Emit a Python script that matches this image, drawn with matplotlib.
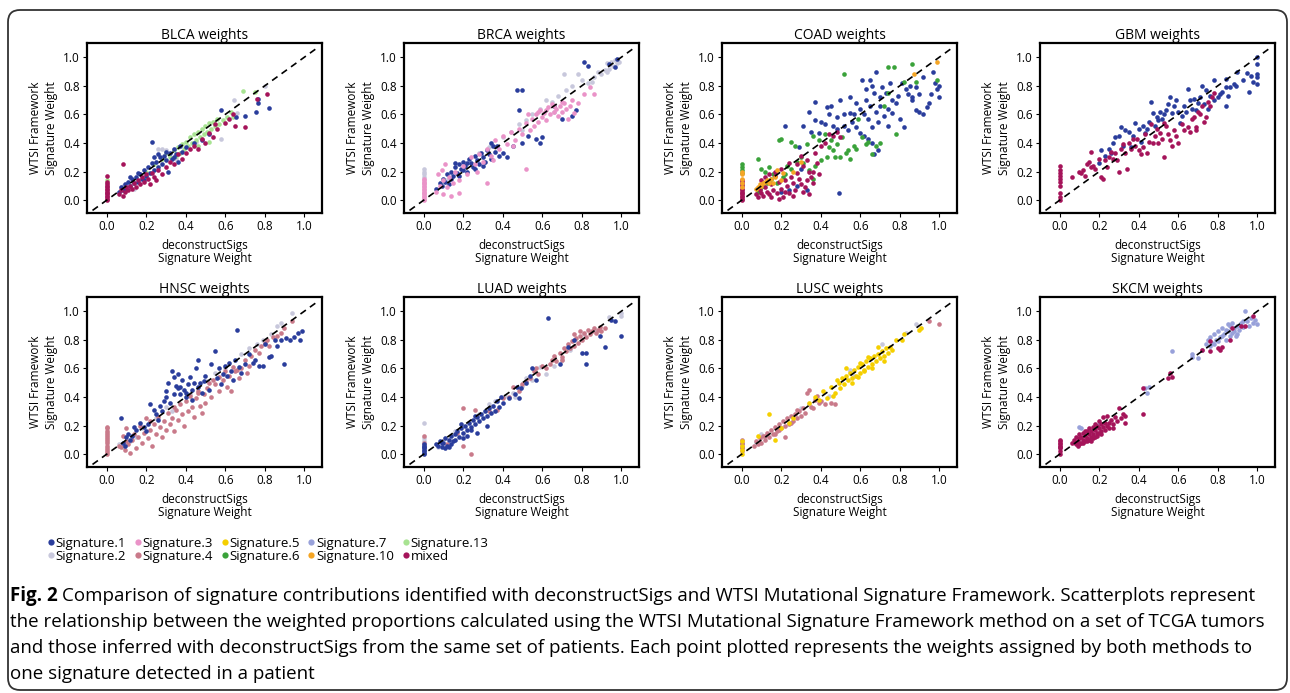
import numpy as np
import matplotlib
matplotlib.use("Agg")
import matplotlib.pyplot as plt
from matplotlib.lines import Line2D
from matplotlib.patches import FancyBboxPatch
from matplotlib.transforms import IdentityTransform

W, H = 1290, 693

# signature colours
sig_colors = {
    "Signature.1": "#2a3d9c",
    "Signature.2": "#c8c8dc",
    "Signature.3": "#ea93c8",
    "Signature.4": "#c97a8a",
    "Signature.5": "#f5cf00",
    "Signature.6": "#3aa23a",
    "Signature.7": "#98a1da",
    "Signature.10": "#f5a524",
    "Signature.13": "#a8e392",
    "mixed": "#a5145a",
}
legend_order = ["Signature.1", "Signature.2", "Signature.3", "Signature.4", "Signature.5",
                "Signature.6", "Signature.7", "Signature.10", "Signature.13", "mixed"]

###############################
# DATA (deconstructSigs, WTSI) #
###############################

blca_sig1 = [(0.06,0.06),(0.07,0.09),(0.08,0.07),(0.09,0.11),(0.10,0.08),(0.11,0.13),(0.12,0.10),(0.13,0.15),
             (0.14,0.12),(0.15,0.16),(0.16,0.13),(0.17,0.18),(0.18,0.15),(0.19,0.21),(0.20,0.17),(0.21,0.23),
             (0.22,0.19),(0.23,0.41),(0.23,0.26),(0.24,0.21),(0.25,0.27),(0.26,0.23),(0.27,0.30),(0.28,0.25),
             (0.29,0.31),(0.30,0.28),(0.31,0.20),(0.32,0.33),(0.33,0.29),(0.34,0.36),(0.35,0.32),(0.36,0.27),
             (0.37,0.38),(0.38,0.34),(0.40,0.37),(0.44,0.40),(0.48,0.42),(0.52,0.46),(0.58,0.63),(0.655,0.585),
             (0.70,0.59),(0.755,0.62),(0.765,0.68),(0.765,0.705),(0.82,0.645),(0.12,0.16),(0.16,0.19),
             (0.26,0.32),(0.30,0.34),(0.34,0.30),(0.24,0.30),(0.19,0.14)]
blca_sig2 = [(0.0,0.12),(0.26,0.36),(0.28,0.36),(0.30,0.35),(0.645,0.70),(0.80,0.80),(0.45,0.41),(0.58,0.43),
             (0.66,0.61),(0.20,0.16),(0.14,0.08),(0.35,0.29),(0.08,0.10)]
blca_sig13 = [(0.0,0.14),(0.30,0.33),(0.32,0.30),(0.34,0.35),(0.35,0.31),(0.36,0.37),(0.37,0.33),(0.38,0.39),
              (0.39,0.36),(0.40,0.41),(0.41,0.38),(0.42,0.44),(0.43,0.40),(0.44,0.46),(0.45,0.42),(0.46,0.48),
              (0.47,0.44),(0.48,0.50),(0.49,0.46),(0.50,0.52),(0.51,0.48),(0.52,0.54),(0.53,0.50),(0.54,0.55),
              (0.55,0.52),(0.56,0.57),(0.57,0.53),(0.59,0.56),(0.61,0.58),(0.63,0.62),(0.64,0.58),(0.69,0.765),
              (0.75,0.76),(0.20,0.20),(0.24,0.25),(0.28,0.29),(0.52,0.41),(0.46,0.38)]
blca_mixed = [(0.0,0.0),(0.0,0.01),(0.0,0.02),(0.0,0.03),(0.0,0.04),(0.0,0.05),(0.0,0.06),(0.0,0.07),(0.0,0.08),
              (0.0,0.09),(0.0,0.10),(0.0,0.11),(0.0,0.13),(0.0,0.17),
              (0.06,0.04),(0.07,0.07),(0.08,0.25),(0.08,0.03),(0.09,0.06),(0.10,0.09),(0.11,0.07),(0.12,0.10),
              (0.13,0.08),(0.14,0.12),(0.15,0.09),(0.16,0.14),(0.17,0.11),(0.18,0.16),(0.19,0.13),(0.20,0.18),
              (0.21,0.15),(0.22,0.11),(0.23,0.19),(0.24,0.16),(0.25,0.14),(0.26,0.21),(0.28,0.18),(0.30,0.23),
              (0.32,0.27),(0.34,0.25),(0.36,0.32),(0.38,0.29),(0.40,0.33),(0.42,0.36),(0.44,0.38),(0.46,0.36),
              (0.48,0.43),(0.50,0.40),(0.52,0.47),(0.54,0.44),(0.55,0.53),(0.56,0.50),(0.60,0.54),(0.62,0.57),
              (0.64,0.60),(0.65,0.52),(0.70,0.51),(0.76,0.71),(0.81,0.745)]

brca_sig1 = [(0.06,0.08),(0.08,0.12),(0.09,0.10),(0.10,0.15),(0.11,0.13),(0.12,0.18),(0.13,0.11),(0.14,0.20),
             (0.15,0.17),(0.16,0.23),(0.17,0.19),(0.18,0.25),(0.19,0.22),(0.20,0.27),(0.21,0.24),(0.22,0.20),
             (0.23,0.29),(0.24,0.26),(0.25,0.23),(0.26,0.31),(0.27,0.28),(0.28,0.25),(0.29,0.33),(0.30,0.30),
             (0.31,0.27),(0.32,0.35),(0.33,0.32),(0.34,0.29),(0.35,0.38),(0.36,0.34),(0.37,0.38),(0.38,0.31),
             (0.40,0.33),(0.42,0.30),(0.45,0.38),(0.47,0.77),(0.48,0.63),(0.50,0.77),(0.50,0.40),(0.53,0.45),
             (0.57,0.43),(0.59,0.40),(0.60,0.44),(0.66,0.66),(0.70,0.57),(0.75,0.59),(0.77,0.63),(0.81,0.97),
             (0.83,0.94),(0.94,0.95),(0.97,0.93),(0.98,0.99),(0.14,0.15),(0.18,0.17),(0.22,0.26),(0.26,0.22),
             (0.30,0.24),(0.34,0.40),(0.20,0.21),(0.16,0.26)]
brca_sig2 = [(0.0,0.16),(0.0,0.18),(0.0,0.20),(0.0,0.22),
             (0.12,0.14),(0.20,0.22),(0.28,0.33),(0.33,0.37),(0.37,0.37),(0.40,0.44),(0.44,0.48),(0.48,0.53),
             (0.52,0.56),(0.55,0.60),(0.59,0.64),(0.62,0.70),(0.65,0.69),(0.68,0.73),(0.71,0.88),(0.72,0.77),
             (0.75,0.80),(0.78,0.88),(0.80,0.84),(0.83,0.82),(0.85,0.83),(0.88,0.90),(0.90,0.88),(0.92,0.91),
             (0.93,0.96),(0.94,0.92),(0.95,0.97),(0.96,0.94),(0.97,0.98),(0.98,0.96),(0.99,0.97),(0.93,0.90),
             (0.86,0.86),(0.66,0.62),(0.50,0.49)]
brca_sig3 = [(0.0,0.0),(0.0,0.01),(0.0,0.02),(0.0,0.03),(0.0,0.04),(0.0,0.05),(0.0,0.06),(0.0,0.07),(0.0,0.08),
             (0.0,0.09),(0.0,0.10),(0.0,0.11),(0.0,0.12),(0.0,0.13),(0.0,0.14),(0.0,0.15),
             (0.06,0.06),(0.07,0.18),(0.08,0.10),(0.09,0.21),(0.10,0.14),(0.11,0.25),(0.12,0.09),(0.13,0.16),
             (0.14,0.03),(0.15,0.12),(0.16,0.20),(0.18,0.14),(0.20,0.24),(0.22,0.18),(0.24,0.30),(0.26,0.25),
             (0.28,0.32),(0.30,0.27),(0.32,0.36),(0.34,0.31),(0.36,0.42),(0.38,0.36),(0.40,0.45),(0.42,0.39),
             (0.44,0.48),(0.46,0.42),(0.48,0.50),(0.50,0.46),(0.52,0.22),(0.52,0.54),(0.54,0.49),(0.55,0.57),
             (0.56,0.52),(0.57,0.60),(0.58,0.55),(0.59,0.63),(0.60,0.58),(0.61,0.61),(0.62,0.56),(0.63,0.65),
             (0.64,0.60),(0.65,0.67),(0.66,0.62),(0.67,0.64),(0.68,0.59),(0.69,0.66),(0.70,0.62),(0.71,0.68),
             (0.72,0.64),(0.73,0.57),(0.74,0.66),(0.75,0.70),(0.76,0.61),(0.78,0.68),(0.81,0.74),(0.84,0.79),
             (0.86,0.74),(0.32,0.12),(0.18,0.05),(0.10,0.04),(0.27,0.20),(0.35,0.28),(0.45,0.38),(0.53,0.60),
             (0.58,0.62),(0.62,0.63),(0.66,0.66),(0.70,0.69)]

coad_sig1 = [(0.65,0.84),(0.66,0.80),(0.67,0.75),(0.65,0.66),(0.63,0.70),(0.55,0.61),(0.58,0.68),(0.60,0.64),
             (0.62,0.60),(0.64,0.57),(0.68,0.62),(0.70,0.66),(0.72,0.59),(0.74,0.64),(0.76,0.61),(0.78,0.68),
             (0.80,0.57),(0.82,0.51),(0.84,0.74),(0.86,0.72),(0.88,0.79),(0.90,0.62),(0.92,0.60),(0.94,0.65),
             (0.96,0.74),(0.98,0.82),(1.0,0.80),(1.0,0.72),(0.99,0.78),(0.68,0.90),(0.61,0.84),(0.50,0.70),
             (0.45,0.66),(0.43,0.65),(0.37,0.69),(0.34,0.62),(0.37,0.56),(0.40,0.55),(0.42,0.53),(0.46,0.52),
             (0.48,0.50),(0.52,0.52),(0.54,0.49),(0.56,0.55),(0.58,0.51),(0.60,0.47),(0.62,0.45),(0.64,0.43),
             (0.66,0.40),(0.69,0.35),(0.67,0.32),(0.49,0.05),(0.35,0.48),(0.29,0.37),(0.22,0.52),(0.30,0.22),
             (0.28,0.10),(0.33,0.07),(0.24,0.07),(0.20,0.06),(0.55,0.72),(0.57,0.60),(0.70,0.72),(0.73,0.75),
             (0.76,0.70),(0.79,0.73),(0.83,0.78),(0.86,0.70),(0.52,0.60),(0.48,0.58),(0.44,0.60),(0.39,0.47),
             (0.31,0.52),(0.63,0.78),(0.71,0.79),(0.75,0.82),(0.81,0.82),(0.85,0.80),(0.88,0.63),(0.95,0.68),
             (0.69,0.55),(0.66,0.51),(0.74,0.52),(0.90,0.74),(0.92,0.86),(0.97,0.90)]
coad_sig6 = [(0.0,0.19),(0.0,0.21),(0.0,0.23),(0.0,0.25),
             (0.08,0.29),(0.10,0.22),(0.12,0.20),(0.14,0.23),(0.16,0.18),(0.19,0.42),(0.20,0.43),(0.25,0.41),
             (0.27,0.38),(0.33,0.39),(0.36,0.45),(0.39,0.42),(0.42,0.46),(0.44,0.37),(0.46,0.35),(0.48,0.39),
             (0.50,0.30),(0.52,0.88),(0.54,0.35),(0.55,0.29),(0.57,0.38),(0.61,0.44),(0.63,0.39),(0.66,0.32),
             (0.70,0.40),(0.72,0.66),(0.74,0.75),(0.77,0.93),(0.78,0.46),(0.82,0.83),(0.86,0.95),(0.88,0.83),
             (0.99,0.84),(0.74,0.93),(0.30,0.30),(0.28,0.27),(0.23,0.24),(0.21,0.16),(0.18,0.12),(0.15,0.15),
             (0.13,0.12),(0.22,0.18),(0.25,0.22),(0.31,0.26),(0.34,0.21),(0.37,0.24),(0.40,0.28),(0.43,0.30),
             (0.47,0.30),(0.53,0.33),(0.58,0.36),(0.64,0.41),(0.68,0.38),(0.36,0.15),(0.08,0.06),(0.11,0.10),
             (0.09,0.08),(0.45,0.42),(0.51,0.44),(0.59,0.57)]
coad_sig10 = [(0.0,0.09),(0.0,0.12),(0.0,0.15),(0.0,0.18),(0.0,0.20),
              (0.07,0.08),(0.08,0.09),(0.09,0.11),(0.10,0.10),(0.11,0.12),(0.12,0.13),(0.13,0.14),(0.14,0.12),
              (0.15,0.15),(0.17,0.16),(0.18,0.21),(0.21,0.19),(0.26,0.20),(0.30,0.27),(0.87,0.88),(0.99,0.97),
              (0.20,0.14),(0.16,0.12)]
coad_mixed = [(0.0,0.0),(0.0,0.01),(0.0,0.02),(0.0,0.03),(0.0,0.04),(0.0,0.05),(0.0,0.06),(0.0,0.07),
              (0.0,0.08),(0.0,0.10),(0.0,0.11),(0.0,0.13),(0.0,0.14),
              (0.07,0.04),(0.08,0.02),(0.09,0.07),(0.10,0.05),(0.11,0.03),(0.12,0.09),(0.13,0.06),(0.14,0.04),
              (0.15,0.11),(0.16,0.07),(0.17,0.17),(0.18,0.05),(0.19,0.13),(0.20,0.08),(0.21,0.02),(0.22,0.14),
              (0.23,0.10),(0.24,0.05),(0.25,0.16),(0.26,0.12),(0.27,0.07),(0.28,0.19),(0.29,0.15),(0.30,0.11),
              (0.31,0.24),(0.32,0.09),(0.33,0.28),(0.34,0.20),(0.35,0.16),(0.36,0.12),(0.37,0.33),(0.38,0.26),
              (0.40,0.38),(0.42,0.40),(0.44,0.46),(0.46,0.45),(0.48,0.48),(0.50,0.44),(0.17,0.20),(0.20,0.22),
              (0.24,0.26),(0.28,0.25),(0.19,0.01),(0.26,0.03),(0.22,0.06),(0.12,0.16),(0.14,0.18),(0.10,0.14),
              (0.31,0.06),(0.34,0.04),(0.15,0.02),(0.33,0.14),(0.36,0.20),(0.39,0.18),(0.30,0.31)]

gbm_sig1 = [(1.0,1.0),(1.0,0.95),(1.0,0.88),(1.0,0.86),(1.0,0.81),(0.98,0.83),(0.96,0.76),(0.97,0.87),
            (0.95,0.89),(0.93,0.84),(0.90,0.90),(0.89,0.80),(0.88,0.81),(0.86,0.79),(0.84,0.79),(0.84,0.85),
            (0.85,0.73),(0.84,0.66),(0.82,0.76),(0.80,0.72),(0.78,0.84),(0.78,0.70),(0.76,0.73),(0.74,0.77),
            (0.72,0.80),(0.71,0.72),(0.70,0.68),(0.68,0.71),(0.66,0.70),(0.67,0.64),(0.65,0.78),(0.64,0.62),
            (0.62,0.59),(0.60,0.62),(0.59,0.70),(0.58,0.66),(0.57,0.61),(0.56,0.72),(0.55,0.67),(0.54,0.63),
            (0.53,0.60),(0.52,0.57),(0.51,0.62),(0.50,0.56),(0.49,0.58),(0.48,0.52),(0.47,0.61),(0.46,0.69),
            (0.45,0.55),(0.44,0.50),(0.43,0.47),(0.42,0.52),(0.40,0.50),(0.38,0.54),(0.37,0.45),(0.35,0.48),
            (0.33,0.49),(0.32,0.38),(0.31,0.51),(0.30,0.45),(0.28,0.44),(0.27,0.40),(0.26,0.33),(0.25,0.36),
            (0.23,0.31),(0.21,0.35),(0.20,0.26),(0.36,0.37),(0.41,0.41),(0.63,0.66),(0.61,0.54),(0.69,0.63),
            (0.75,0.64),(0.81,0.74),(0.73,0.67)]
gbm_mixed = [(0.0,0.0),(0.0,0.02),(0.0,0.05),(0.0,0.10),(0.0,0.13),(0.0,0.15),(0.0,0.17),(0.0,0.19),
             (0.0,0.21),(0.0,0.24),
             (0.06,0.16),(0.10,0.20),(0.11,0.19),(0.12,0.21),(0.13,0.17),(0.14,0.25),(0.15,0.27),(0.16,0.23),
             (0.16,0.34),(0.17,0.24),(0.18,0.22),(0.20,0.29),(0.21,0.16),(0.22,0.15),(0.23,0.28),(0.24,0.23),
             (0.25,0.30),(0.26,0.34),(0.27,0.29),(0.28,0.33),(0.29,0.28),(0.30,0.20),(0.31,0.36),(0.32,0.39),
             (0.33,0.33),(0.34,0.22),(0.35,0.40),(0.36,0.36),(0.37,0.43),(0.38,0.38),(0.40,0.35),(0.41,0.32),
             (0.42,0.37),(0.43,0.46),(0.44,0.33),(0.45,0.41),(0.46,0.53),(0.47,0.40),(0.48,0.45),(0.49,0.50),
             (0.50,0.40),(0.51,0.47),(0.52,0.43),(0.53,0.30),(0.54,0.52),(0.55,0.46),(0.56,0.42),(0.57,0.38),
             (0.58,0.49),(0.59,0.45),(0.60,0.40),(0.62,0.53),(0.63,0.49),(0.65,0.51),(0.66,0.48),(0.67,0.57),
             (0.68,0.58),(0.69,0.51),(0.70,0.62),(0.71,0.60),(0.72,0.66),(0.73,0.55),(0.74,0.58),(0.75,0.69),
             (0.76,0.66),(0.77,0.72),(0.78,0.75),(0.69,0.49),(0.39,0.43),(0.53,0.54)]

hnsc_sig1 = [(0.07,0.25),(0.08,0.08),(0.09,0.06),(0.10,0.12),(0.12,0.10),(0.14,0.19),(0.15,0.17),(0.17,0.22),
             (0.20,0.16),(0.22,0.35),(0.24,0.31),(0.25,0.28),(0.27,0.34),(0.29,0.37),(0.30,0.44),(0.31,0.50),
             (0.33,0.58),(0.34,0.54),(0.35,0.48),(0.36,0.46),(0.36,0.56),(0.37,0.42),(0.38,0.52),(0.39,0.45),
             (0.40,0.40),(0.41,0.49),(0.42,0.54),(0.43,0.38),(0.44,0.50),(0.45,0.60),(0.46,0.66),(0.47,0.50),
             (0.48,0.43),(0.50,0.55),(0.52,0.45),(0.53,0.63),(0.55,0.72),(0.56,0.53),(0.58,0.49),(0.60,0.62),
             (0.62,0.64),(0.63,0.58),(0.64,0.52),(0.65,0.66),(0.66,0.87),(0.67,0.61),(0.68,0.57),(0.70,0.63),
             (0.72,0.70),(0.74,0.64),(0.75,0.66),(0.77,0.62),(0.79,0.62),(0.80,0.77),(0.82,0.68),(0.83,0.69),
             (0.85,0.80),(0.86,0.76),(0.88,0.80),(0.90,0.63),(0.91,0.81),(0.93,0.80),(0.95,0.82),(0.97,0.85),
             (0.98,0.80),(0.99,0.86),(0.57,0.60),(0.59,0.56),(0.61,0.55),(0.32,0.36),(0.28,0.30),(0.26,0.24),
             (0.21,0.21),(0.19,0.19),(0.13,0.13),(0.11,0.14),(0.43,0.45),(0.46,0.47),(0.49,0.51),(0.40,0.43),
             (0.37,0.47),(0.34,0.42),(0.30,0.40)]
hnsc_sig2 = [(0.06,0.07),(0.08,0.05),(0.12,0.09),(0.18,0.18),(0.25,0.25),(0.33,0.30),(0.42,0.42),(0.51,0.51),
             (0.55,0.57),(0.60,0.60),(0.68,0.70),(0.72,0.74),(0.76,0.77),(0.79,0.80),(0.83,0.84),(0.88,0.92),
             (0.94,0.99),(0.86,0.90),(0.30,0.33),(0.15,0.12)]
hnsc_sig4 = [(0.0,0.0),(0.0,0.015),(0.0,0.03),(0.0,0.045),(0.0,0.06),(0.0,0.075),(0.0,0.09),(0.0,0.105),
             (0.0,0.12),(0.0,0.135),(0.0,0.15),(0.0,0.165),(0.0,0.18),(0.0,0.19),
             (0.07,0.05),(0.08,0.13),(0.09,0.03),(0.10,0.18),(0.11,0.07),(0.12,0.01),(0.13,0.10),(0.14,0.14),
             (0.15,0.04),(0.16,0.12),(0.17,0.20),(0.18,0.08),(0.19,0.15),(0.20,0.25),(0.21,0.11),(0.22,0.17),
             (0.23,0.06),(0.24,0.21),(0.25,0.14),(0.26,0.26),(0.27,0.19),(0.28,0.12),(0.29,0.23),(0.30,0.17),
             (0.31,0.29),(0.32,0.21),(0.33,0.25),(0.34,0.16),(0.35,0.31),(0.36,0.24),(0.37,0.35),(0.38,0.28),
             (0.39,0.20),(0.40,0.37),(0.41,0.30),(0.42,0.41),(0.43,0.33),(0.44,0.26),(0.45,0.39),(0.46,0.43),
             (0.47,0.34),(0.48,0.29),(0.49,0.42),(0.50,0.36),(0.51,0.46),(0.53,0.40),(0.55,0.49),(0.57,0.44),
             (0.59,0.52),(0.61,0.47),(0.62,0.55),(0.63,0.44),(0.65,0.58),(0.67,0.53),(0.68,0.60),(0.70,0.66),
             (0.72,0.62),(0.73,0.69),(0.75,0.73),(0.77,0.71),(0.78,0.76),(0.80,0.78),(0.81,0.80),(0.82,0.76),
             (0.84,0.82),(0.86,0.83),(0.88,0.85),(0.90,0.88),(0.94,0.93),(0.60,0.58),(0.57,0.54),(0.54,0.52),
             (0.52,0.50),(0.46,0.44),(0.34,0.33),(0.22,0.23),(0.10,0.09),(0.06,0.06),(0.66,0.59),(0.64,0.61),
             (0.71,0.57)]

luad_sig1 = [(0.0,0.0),(0.0,0.01),(0.0,0.02),(0.0,0.03),(0.0,0.04),(0.0,0.05),(0.0,0.06),(0.0,0.07),
             (0.06,0.07),(0.07,0.06),(0.08,0.09),(0.09,0.05),(0.10,0.08),(0.11,0.11),(0.12,0.06),(0.13,0.10),
             (0.14,0.13),(0.15,0.09),(0.16,0.14),(0.17,0.16),(0.18,0.12),(0.19,0.18),(0.20,0.15),(0.21,0.20),
             (0.22,0.17),(0.23,0.22),(0.24,0.19),(0.25,0.24),(0.26,0.21),(0.27,0.26),(0.28,0.23),(0.29,0.28),
             (0.30,0.25),(0.31,0.30),(0.32,0.27),(0.33,0.32),(0.34,0.29),(0.35,0.34),(0.36,0.30),(0.37,0.37),
             (0.38,0.33),(0.39,0.40),(0.40,0.36),(0.27,0.15),(0.32,0.20),(0.20,0.11),(0.14,0.07),(0.43,0.39),
             (0.46,0.42),(0.47,0.47),(0.48,0.39),(0.49,0.46),(0.52,0.50),(0.54,0.55),(0.55,0.60),(0.57,0.52),
             (0.63,0.95),(0.69,0.63),(0.73,0.75),(0.76,0.80),(0.80,0.71),(0.82,0.71),(0.82,0.63),(0.89,0.83),
             (0.92,0.75),(0.95,0.94),(0.97,0.93),(1.0,0.83),(0.11,0.04),(0.13,0.05),(0.16,0.10),(0.22,0.13),
             (0.24,0.17),(0.09,0.08),(0.19,0.21),(0.26,0.27)]
luad_sig2 = [(0.0,0.05),(0.0,0.07),(0.0,0.09),(0.0,0.11),(0.0,0.22),
             (0.07,0.05),(0.10,0.09),(0.16,0.16),(0.28,0.28),(0.36,0.37),(0.41,0.41),(0.45,0.43),(0.46,0.40),
             (0.52,0.53),(0.55,0.52),(0.59,0.61),(0.62,0.56),(0.66,0.62),(0.70,0.66),(0.74,0.73),(0.81,0.84),
             (0.86,0.87),(0.94,0.96),(1.0,0.97),(1.0,0.99),(0.50,0.48),(0.33,0.35)]
luad_sig4 = [(0.0,0.08),(0.0,0.13),
             (0.12,0.07),(0.17,0.15),(0.20,0.32),(0.20,0.06),(0.24,0.00),(0.26,0.31),(0.33,0.30),(0.37,0.31),
             (0.40,0.39),(0.43,0.40),(0.45,0.47),(0.48,0.44),(0.50,0.49),(0.52,0.51),(0.54,0.53),(0.56,0.58),
             (0.58,0.56),(0.60,0.62),(0.62,0.60),(0.64,0.63),(0.66,0.69),(0.67,0.65),(0.69,0.71),(0.70,0.68),
             (0.71,0.74),(0.72,0.72),(0.73,0.77),(0.74,0.74),(0.75,0.79),(0.76,0.76),(0.77,0.81),(0.78,0.78),
             (0.79,0.83),(0.80,0.80),(0.81,0.85),(0.82,0.82),(0.83,0.87),(0.84,0.84),(0.85,0.86),(0.86,0.88),
             (0.87,0.85),(0.88,0.87),(0.89,0.89),(0.90,0.86),(0.92,0.88),(0.79,0.86),(0.76,0.84),(0.70,0.66),
             (0.65,0.66),(0.57,0.60)]

lusc_sig2 = [(0.0,0.05),(0.0,0.08),(0.07,0.08),(0.10,0.14),(0.30,0.32),(0.34,0.35),(0.44,0.41),(0.55,0.59),
             (0.55,0.58),(0.57,0.55),(0.71,0.77),(0.83,0.85),(0.88,0.91)]
lusc_sig4 = [(0.0,0.02),(0.0,0.04),(0.0,0.05),(0.0,0.07),(0.0,0.08),(0.0,0.10),
             (0.06,0.06),(0.07,0.09),(0.08,0.07),(0.09,0.11),(0.10,0.08),(0.11,0.13),(0.12,0.10),(0.13,0.15),
             (0.14,0.12),(0.15,0.17),(0.16,0.14),(0.17,0.19),(0.18,0.16),(0.19,0.21),(0.20,0.18),(0.21,0.23),
             (0.22,0.20),(0.22,0.12),(0.23,0.25),(0.24,0.21),(0.25,0.27),(0.26,0.23),(0.27,0.28),(0.28,0.25),
             (0.29,0.30),(0.30,0.27),(0.31,0.32),(0.32,0.29),(0.33,0.43),(0.34,0.45),(0.35,0.33),(0.36,0.32),
             (0.37,0.38),(0.38,0.41),(0.39,0.36),(0.40,0.37),(0.42,0.35),(0.45,0.36),(0.47,0.35),(0.95,0.93),
             (1.0,0.91),(0.19,0.17),(0.25,0.22),(0.12,0.13),(0.28,0.31),(0.17,0.14)]
lusc_sig5 = [(0.0,0.0),(0.0,0.03),(0.0,0.06),(0.0,0.09),
             (0.08,0.13),(0.14,0.28),(0.17,0.10),(0.20,0.18),(0.24,0.22),(0.26,0.25),(0.34,0.36),(0.37,0.40),
             (0.39,0.38),(0.41,0.44),(0.43,0.39),(0.45,0.47),(0.47,0.43),(0.48,0.52),(0.49,0.50),(0.50,0.46),
             (0.51,0.53),(0.52,0.49),(0.53,0.55),(0.54,0.52),(0.55,0.57),(0.56,0.53),(0.57,0.59),(0.58,0.55),
             (0.59,0.61),(0.60,0.57),(0.61,0.63),(0.62,0.59),(0.63,0.65),(0.64,0.61),(0.65,0.67),(0.66,0.63),
             (0.67,0.69),(0.68,0.65),(0.69,0.70),(0.70,0.67),(0.71,0.72),(0.72,0.69),(0.73,0.74),(0.74,0.71),
             (0.75,0.75),(0.76,0.73),(0.78,0.80),(0.81,0.80),(0.82,0.84),(0.90,0.87),(0.91,0.88),(0.66,0.60),
             (0.62,0.58),(0.56,0.50),(0.46,0.41),(0.53,0.60),(0.60,0.64),(0.69,0.75),(0.72,0.65),(0.64,0.68),
             (0.59,0.54)]

skcm_sig7 = [(0.0,0.05),(0.10,0.19),(0.11,0.18),(0.20,0.21),(0.43,0.46),(0.44,0.43),(0.45,0.47),(0.57,0.72),
             (0.67,0.70),(0.67,0.68),(0.70,0.67),(0.74,0.77),(0.75,0.80),(0.76,0.82),(0.77,0.78),(0.78,0.84),
             (0.79,0.80),(0.80,0.86),(0.81,0.82),(0.82,0.88),(0.83,0.84),(0.84,0.80),(0.85,0.86),(0.86,0.90),
             (0.87,0.85),(0.88,0.88),(0.89,0.83),(0.90,0.90),(0.91,0.87),(0.92,0.92),(0.93,0.89),(0.94,1.0),
             (0.95,0.93),(0.96,0.90),(0.97,0.95),(0.98,0.92),(0.99,0.94),(1.0,0.91),(0.80,0.79),(0.82,0.83),
             (0.84,0.87),(0.86,0.83),(0.88,0.86),(0.90,0.84),(0.78,0.77),(0.76,0.76),(0.72,0.73),(0.85,0.91),
             (0.87,0.92),(0.93,0.93)]
skcm_mixed = [(0.0,0.0),(0.0,0.02),(0.0,0.04),(0.0,0.05),(0.0,0.06),(0.0,0.07),(0.0,0.08),(0.0,0.09),(0.0,0.10),
              (0.06,0.08),(0.07,0.10),(0.08,0.07),(0.08,0.12),(0.09,0.09),(0.10,0.11),(0.10,0.14),(0.11,0.08),
              (0.11,0.12),(0.12,0.10),(0.12,0.15),(0.13,0.13),(0.13,0.09),(0.14,0.16),(0.14,0.11),(0.15,0.14),
              (0.15,0.18),(0.16,0.12),(0.16,0.16),(0.17,0.19),(0.17,0.14),(0.18,0.17),(0.18,0.12),(0.19,0.20),
              (0.19,0.15),(0.20,0.18),(0.20,0.23),(0.21,0.16),(0.21,0.21),(0.22,0.19),(0.22,0.26),(0.23,0.17),
              (0.23,0.22),(0.24,0.20),(0.24,0.27),(0.25,0.18),(0.26,0.24),(0.27,0.21),(0.28,0.26),(0.29,0.23),
              (0.30,0.32),(0.31,0.25),(0.32,0.28),(0.33,0.22),(0.33,0.27),(0.42,0.28),(0.42,0.46),(0.55,0.53),
              (0.56,0.57),(0.57,0.54),(0.72,0.73),(0.76,0.72),(0.76,0.79),(0.80,0.74),(0.81,0.73),(0.82,0.75),
              (0.86,0.80),(0.87,0.88),(0.92,0.90),(0.94,0.90),(0.98,0.97),(0.09,0.06),(0.12,0.08),(0.14,0.09),
              (0.17,0.11),(0.19,0.13),(0.21,0.14),(0.15,0.10),(0.18,0.21),(0.20,0.15),(0.25,0.22),(0.27,0.18),
              (0.13,0.16),(0.16,0.09),(0.10,0.07)]

panels = [
    ("BLCA", [("Signature.2", blca_sig2), ("Signature.13", blca_sig13), ("Signature.1", blca_sig1), ("mixed", blca_mixed)]),
    ("BRCA", [("Signature.2", brca_sig2), ("Signature.1", brca_sig1), ("Signature.3", brca_sig3)]),
    ("COAD", [("Signature.1", coad_sig1), ("Signature.6", coad_sig6), ("mixed", coad_mixed), ("Signature.10", coad_sig10)]),
    ("GBM", [("Signature.1", gbm_sig1), ("mixed", gbm_mixed)]),
    ("HNSC", [("Signature.2", hnsc_sig2), ("Signature.4", hnsc_sig4), ("Signature.1", hnsc_sig1)]),
    ("LUAD", [("Signature.2", luad_sig2), ("Signature.4", luad_sig4), ("Signature.1", luad_sig1)]),
    ("LUSC", [("Signature.2", lusc_sig2), ("Signature.4", lusc_sig4), ("Signature.5", lusc_sig5)]),
    ("SKCM", [("Signature.7", skcm_sig7), ("mixed", skcm_mixed)]),
]

caption_lines = [
    "Comparison of signature contributions identified with deconstructSigs and WTSI Mutational Signature Framework. Scatterplots represent",
    "the relationship between the weighted proportions calculated using the WTSI Mutational Signature Framework method on a set of TCGA tumors",
    "and those inferred with deconstructSigs from the same set of patients. Each point plotted represents the weights assigned by both methods to",
    "one signature detected in a patient",
]

##################
# Make the graph #
##################

plt.rcParams['font.family'] = ['Open Sans', 'DejaVu Sans']

fig = plt.figure(figsize=(W / 100, H / 100), dpi=100)

# axes box positions in pixels (left, top)
lefts = [87, 404, 722, 1040]
tops = [43, 297]
ax_w, ax_h = 235, 170
ticks = [0.0, 0.2, 0.4, 0.6, 0.8, 1.0]

for i, (name, series) in enumerate(panels):
    r, c = divmod(i, 4)
    ax = fig.add_axes([lefts[c] / W, (H - tops[r] - ax_h) / H, ax_w / W, ax_h / H])
    for sig, pts in series:
        arr = np.array(pts)
        ax.scatter(arr[:, 0], arr[:, 1], s=11, color=sig_colors[sig], linewidths=0, zorder=2)
    ax.plot([-0.12, 1.06], [-0.12, 1.06], color="black", linestyle=(0, (4, 3)), linewidth=1.2, zorder=3)
    ax.set_xlim(-0.1, 1.09)
    ax.set_ylim(-0.09, 1.1)
    ax.set_xticks(ticks)
    ax.set_yticks(ticks)
    ax.set_xticklabels(["%.1f" % t for t in ticks], fontsize=8.5)
    ax.set_yticklabels(["%.1f" % t for t in ticks], fontsize=8.5)
    ax.tick_params(axis="both", length=3, width=0.8, pad=2)
    for sp in ax.spines.values():
        sp.set_linewidth(1.6)
    ax.set_title(name + " weights", fontsize=10, pad=3)
    ax.set_xlabel("deconstructSigs\nSignature Weight", fontsize=8.5, linespacing=1.05, labelpad=4)
    ax.set_ylabel("WTSI Framework\nSignature Weight", fontsize=8.5, linespacing=1.25, labelpad=4)

# legend
handles = [Line2D([], [], marker="o", linestyle="none", markersize=4.5, markeredgewidth=0,
                  color=sig_colors[s]) for s in legend_order]
fig.legend(handles, legend_order, loc="upper left", bbox_to_anchor=(48 / W, 1 - 537 / H), ncol=5,
           frameon=False, fontsize=9.5, handlelength=0.4, handletextpad=0.15, columnspacing=0.7,
           labelspacing=0.0, borderpad=0, borderaxespad=0)

# caption, sized to fit the line width of the reference
renderer = fig.canvas.get_renderer()
fs = 14
probe_b = fig.text(0, 0, "Fig. 2 ", fontsize=fs, fontweight="bold")
probe_r = fig.text(0, 0, caption_lines[0], fontsize=fs)
wtot = probe_b.get_window_extent(renderer).width + probe_r.get_window_extent(renderer).width
probe_b.remove()
probe_r.remove()
fs = fs * 1252 / wtot

line_y = [596, 622, 648, 674]
bold = fig.text(10 / W, 1 - line_y[0] / H, "Fig. 2", fontsize=fs, fontweight="bold", va="center")
bb = bold.get_window_extent(renderer)
fig.text((bb.x1 + fs * 0.3) / W, 1 - line_y[0] / H, caption_lines[0], fontsize=fs, va="center")
for ln, yy in zip(caption_lines[1:], line_y[1:]):
    fig.text(10 / W, 1 - yy / H, ln, fontsize=fs, va="center")

# rounded frame around the figure
frame = FancyBboxPatch((8, 3), 1279, 680, boxstyle="round,pad=0,rounding_size=12",
                       transform=IdentityTransform(), fill=False, linewidth=1.3, edgecolor="#333333")
fig.add_artist(frame)

fig.savefig("out.png", dpi=100)
plt.close("all")
